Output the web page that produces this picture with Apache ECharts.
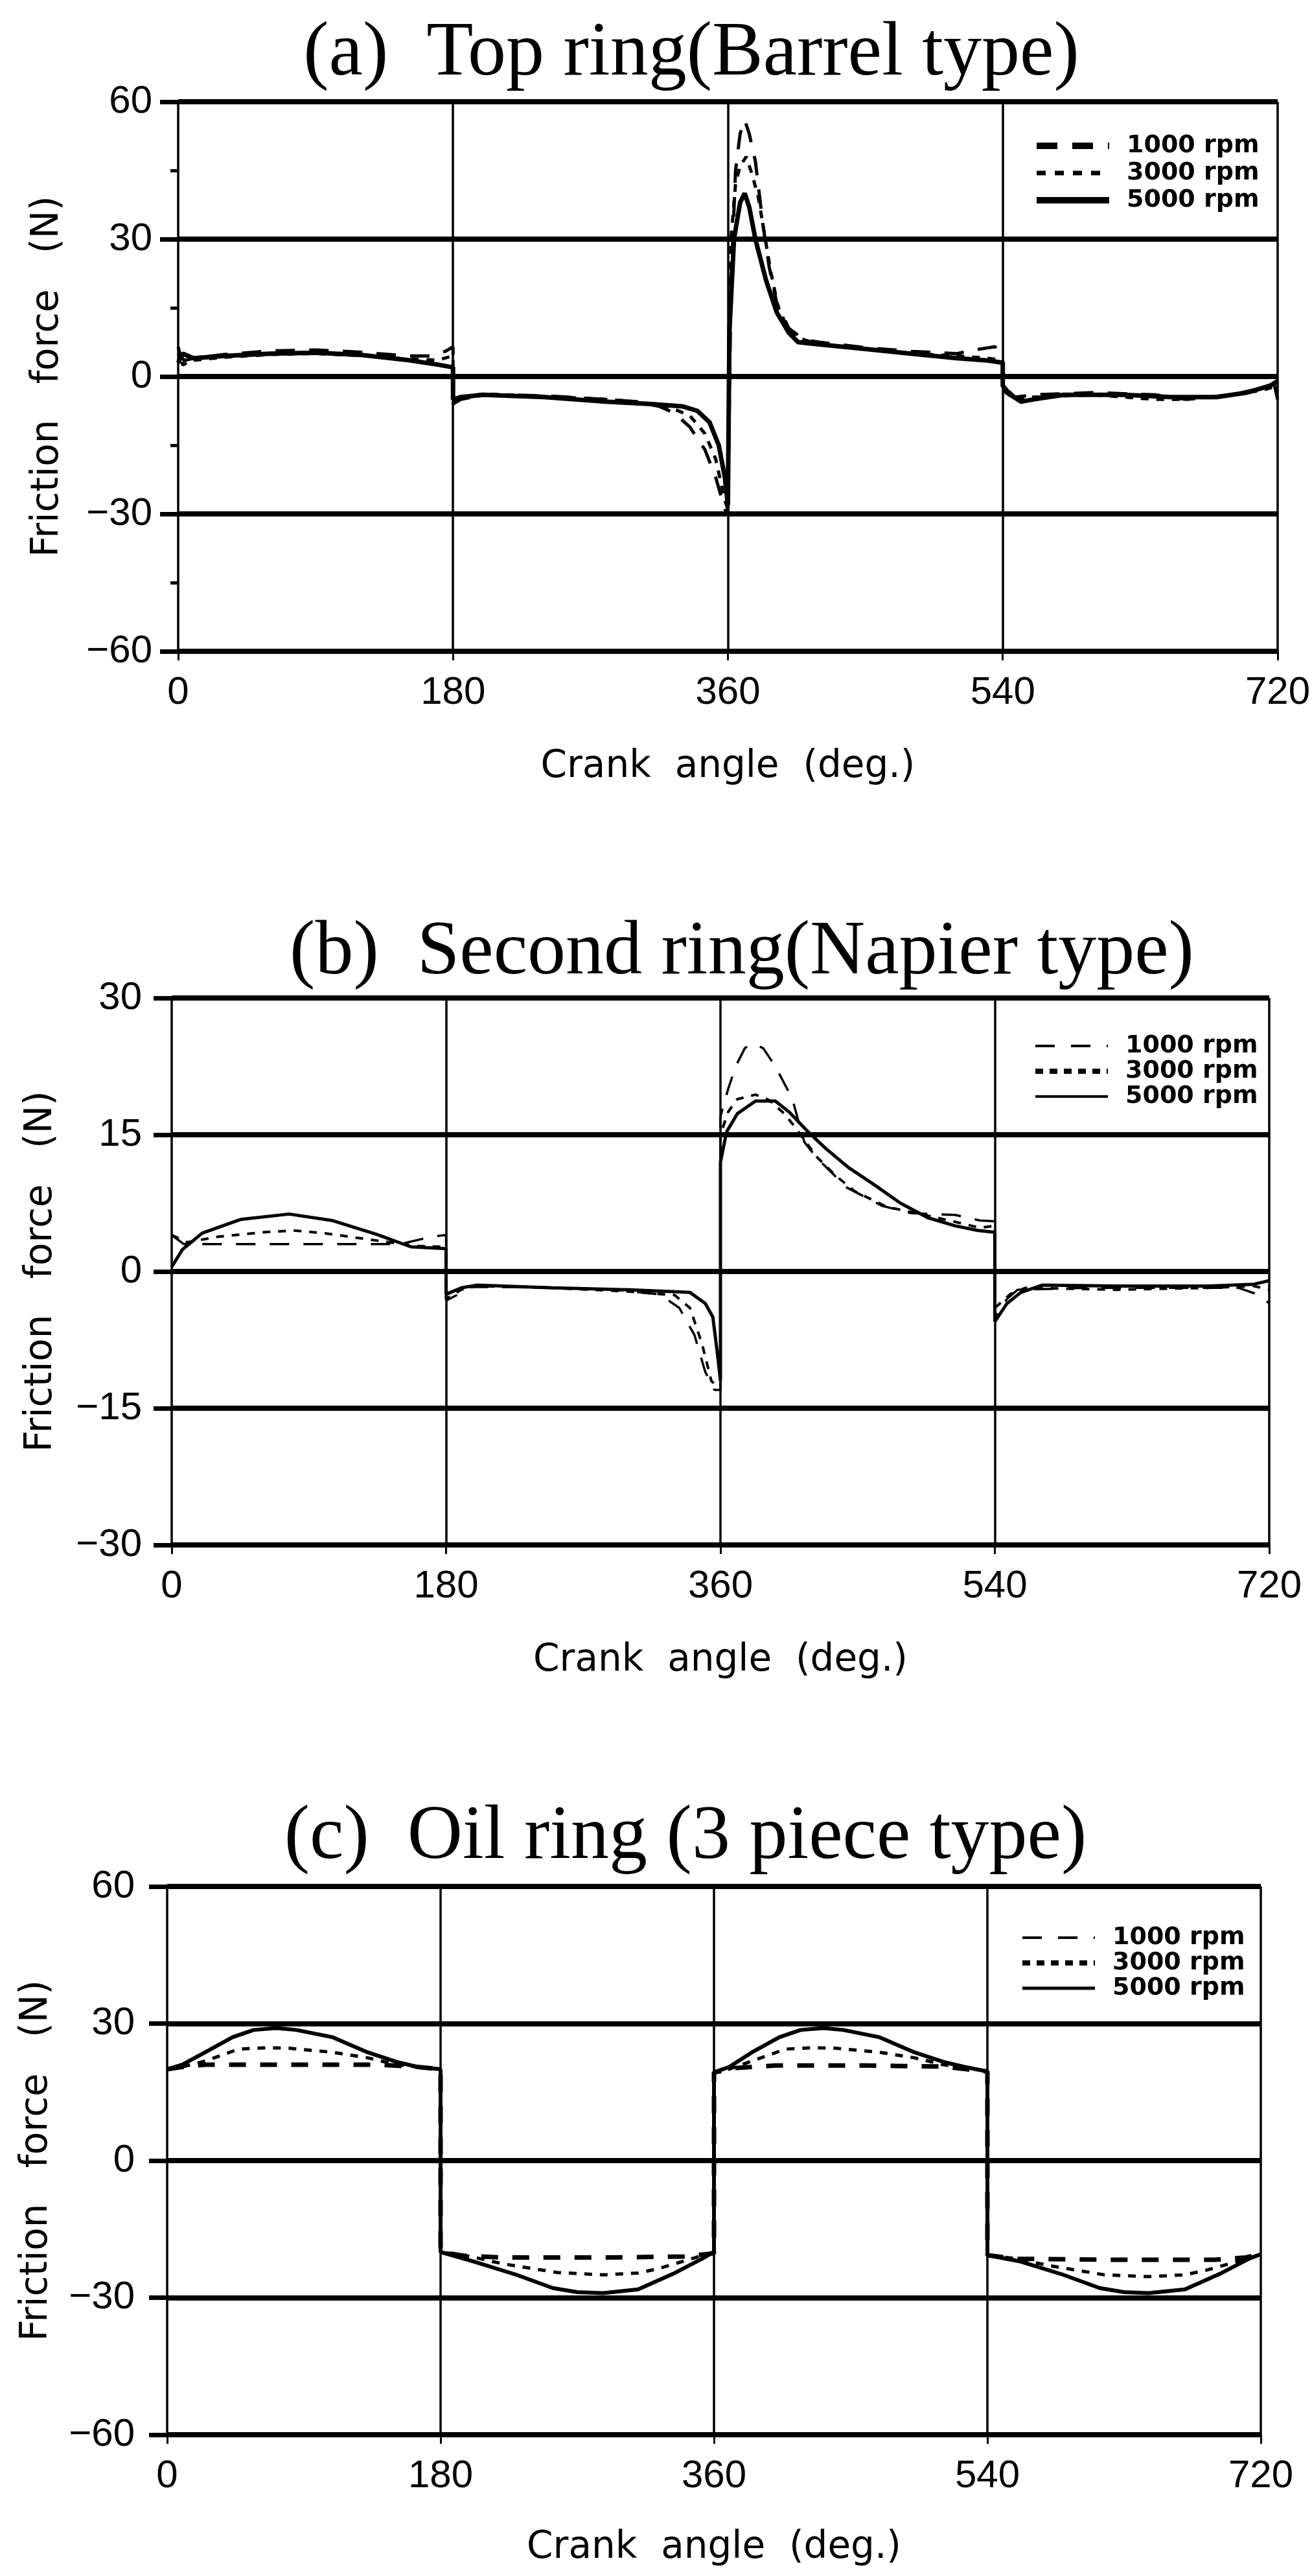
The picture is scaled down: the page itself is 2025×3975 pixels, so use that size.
<!DOCTYPE html>
<html>
<head>
<meta charset="utf-8">
<title>Ring friction force</title>
<script src="https://cdn.jsdelivr.net/npm/echarts@6/dist/echarts.min.js"></script>
<style>
  html, body { margin: 0; padding: 0; background: #fff; }
  #chart { width: 2025px; height: 3975px; }
</style>
</head>
<body>
<div id="chart"></div>
<script>
// [crank angle (deg.), friction force (N)]
const rpmNames = ['1000 rpm', '3000 rpm', '5000 rpm']

// (a) top ring
const top1000 = [[0,5],[4,3.5],[10,4],[30,4.8],[60,5.6],[90,5.8],[120,5.3],[150,4.5],[165,4.5],[175,5.5],[180,6.5],
  [180,-6],[185,-5],[200,-4],[240,-4.2],[280,-5],[300,-5.5],[315,-6.5],[325,-8],[335,-11],[345,-16],[352,-22],[358,-29],[360,-30],
  [362,20],[365,45],[368,53],[371,56],[374,53],[378,47],[383,33],[387,24],[392,16],[400,10.5],[410,8],[420,7.5],[450,6.3],[480,5.5],[510,5],[525,6],[535,6.5],[540,4],
  [540,-2],[548,-4.5],[560,-4],[600,-3.5],[640,-4],[660,-5],[690,-4],[710,-2.5],[718,-2],[720,-5]]
const top3000 = [[0,6.5],[3,2.5],[8,3.5],[30,4.2],[60,4.8],[90,5],[120,4.6],[150,3.8],[170,3.6],[180,4.5],
  [180,-5],[185,-4.5],[200,-3.8],[240,-4.3],[280,-5],[300,-5.5],[320,-6.5],[335,-8.5],[345,-12.5],[352,-18],[358,-27],[360,-29],
  [362,30],[365,42],[368,46],[372,48],[376,44],[380,39],[384,31],[388,23],[393,15],[400,10],[410,8],[420,7],[450,6],[480,5],[510,4.5],[530,4],[540,3.5],
  [540,-3],[548,-5],[560,-4.5],[600,-4],[640,-5],[660,-5],[690,-4],[710,-3],[720,-2]]
const top5000 = [[0,3],[3,5],[10,4],[30,4.5],[60,5],[90,5.2],[120,4.7],[150,3.6],[170,2.6],[180,2],
  [180,-5],[185,-4.5],[200,-4],[240,-4.5],[280,-5.5],[310,-6],[330,-6.5],[340,-7.5],[348,-10],[354,-15],[358,-22],[360,-28],
  [361,10],[364,30],[368,38],[371,40],[374,37],[378,30],[385,21],[392,14],[400,9.5],[406,7.5],[420,7],[450,6],[480,5],[510,4],[530,3.5],[540,3],
  [540,-2],[545,-4],[552,-5.5],[560,-5],[580,-4],[620,-4],[650,-4.5],[680,-4.5],[700,-3.5],[715,-2],[720,-1]]

// (b) second ring
const second1000 = [[0,4],[8,3],[30,3],[60,3],[90,3],[120,3],[150,3],[170,3.8],[180,4],
  [180,-3.2],[188,-2.5],[195,-1.7],[240,-1.7],[290,-2],[320,-2.5],[333,-4],[343,-7],[350,-11],[356,-13],[360,-13],
  [360,17],[365,20],[370,22.5],[376,24.5],[381,25],[388,24.5],[396,22.5],[407,19],[415,14.2],[423,12.5],[432,11],[443,9.2],[466,7.2],[485,6.4],[514,6.2],[530,5.6],[540,5.5],
  [540,-5],[548,-3],[555,-2],[600,-1.8],[650,-1.8],[700,-1.8],[712,-2.5],[720,-3.5]]
const second3000 = [[0,4],[10,3.2],[30,3.8],[60,4.3],[80,4.5],[100,4.2],[130,3.5],[160,2.8],[180,2.7],
  [180,-3],[190,-2],[200,-1.6],[250,-1.8],[300,-2.2],[330,-2.6],[340,-4],[348,-8],[354,-12],[360,-13],
  [360,15],[365,17.5],[371,18.9],[383,19.4],[392,18.8],[402,17.3],[410,15.6],[423,12.6],[435,10.6],[448,8.8],[469,7.1],[488,6.4],[510,5.6],[530,4.8],[540,5],
  [540,-4],[550,-2.5],[560,-1.8],[620,-2],[680,-1.8],[710,-1.6],[720,-2]]
const second5000 = [[0,0.5],[7,2.4],[20,4.2],[45,5.7],[77,6.3],[105,5.6],[134,4.1],[157,2.7],[180,2.5],
  [180,-2.5],[190,-1.8],[200,-1.5],[250,-1.8],[300,-2],[340,-2.3],[350,-3.5],[355,-5],[358,-9],[360,-12],
  [360,12],[364,15.3],[371,17.3],[383,18.7],[396,18.7],[405,17.5],[417,15.4],[429,13.5],[444,11.4],[461,9.5],[478,7.5],[496,5.9],[514,5],[529,4.5],[540,4.3],
  [540,-5.5],[548,-3.5],[557,-2.3],[571,-1.5],[620,-1.6],[680,-1.6],[710,-1.4],[720,-1]]

// (c) oil ring
const oil1000 = [[0,20],[10,20.5],[25,21],[60,21],[100,21],[140,21],[165,20.5],[180,20],
  [180,-20],[195,-20.8],[220,-21.2],[290,-21.2],[340,-21],[360,-20.3],
  [360,19.3],[375,20.3],[400,20.8],[460,20.8],[510,20.6],[540,19.5],
  [540,-20.7],[560,-21.5],[620,-21.7],[690,-21.7],[710,-21.2],[720,-20.5]]
const oil3000 = [[0,20],[10,20.5],[25,21.8],[47,24.4],[65,24.7],[80,24.6],[109,23.7],[132,22.5],[151,21],[170,20.3],[180,20],
  [180,-20],[200,-21],[221,-22.6],[257,-24.5],[287,-25],[310,-24.6],[324,-23.6],[340,-22],[355,-20.5],[360,-20],
  [360,19.3],[370,20],[385,21.8],[407,24.4],[425,24.7],[440,24.6],[469,23.7],[492,22.5],[511,21],[530,20.2],[540,19.5],
  [540,-20.7],[560,-21.5],[581,-23],[617,-25],[646,-25.4],[670,-25],[684,-24],[700,-22.5],[715,-21],[720,-20.5]]
const oil5000 = [[0,20],[10,21],[25,23.7],[43,27],[57,28.6],[72,29],[85,28.6],[109,27],[132,23.7],[151,21.6],[165,20.5],[180,20],
  [180,-20],[202,-22.1],[230,-25],[254,-27.9],[270,-28.8],[287,-29],[310,-28.2],[333,-24.8],[352,-21.5],[360,-20],
  [360,19.3],[370,20.5],[385,23.7],[403,27],[417,28.6],[432,29],[445,28.6],[469,27],[492,23.7],[511,21.6],[525,20.5],[540,19.5],
  [540,-20.7],[562,-22.1],[590,-25],[614,-27.9],[630,-28.8],[646,-29],[670,-28.2],[693,-24.8],[712,-21.5],[720,-20.5]]

const titles = ['(a)  Top ring(Barrel type)', '(b)  Second ring(Napier type)', '(c)  Oil ring (3 piece type)']
const xName = 'Crank  angle  (deg.)'
const yName = 'Friction   force   (N)'

const longDash = [30, 22]
const shortDash = [12, 12]

const chart = echarts.init(document.getElementById('chart'))

function line(name, data, idx, width, type) {
  return {
    name: name,
    type: 'line',
    xAxisIndex: idx,
    yAxisIndex: idx,
    data: data,
    symbol: 'none',
    silent: true,
    itemStyle: { color: '#000' },
    lineStyle: { color: '#000', width: width, type: type }
  }
}

function xAxisFor(idx, nameGap) {
  return {
    type: 'value', gridIndex: idx, min: 0, max: 720, interval: 180,
    name: xName, nameLocation: 'middle', nameGap: nameGap,
    nameTextStyle: { fontFamily: 'DejaVu Sans', fontSize: 58, color: '#000' },
    axisLine: { show: false, onZero: false },
    axisTick: { show: true, length: 14, lineStyle: { color: '#000', width: 3 } },
    axisLabel: { margin: 34, fontFamily: 'Liberation Sans', fontSize: 60, color: '#000' },
    splitLine: { show: true, lineStyle: { color: '#000', width: 3.5 } }
  }
}

function yAxisFor(idx, lim, step, nameGap, labelMargin, minor) {
  return {
    type: 'value', gridIndex: idx, min: -lim, max: lim, interval: step,
    name: yName, nameLocation: 'middle', nameGap: nameGap, nameRotate: 90,
    nameTextStyle: { fontFamily: 'DejaVu Sans', fontSize: 58, color: '#000' },
    axisLine: { show: false },
    axisTick: { show: true, length: 28, lineStyle: { color: '#000', width: 7 } },
    minorTick: { show: minor, splitNumber: 2, length: 12, lineStyle: { color: '#000', width: 5 } },
    axisLabel: {
      margin: labelMargin, fontFamily: 'Liberation Sans', fontSize: 60, color: '#000',
      formatter: v => String(v).replace('-', '\u2212')
    },
    splitLine: { show: true, lineStyle: { color: '#000', width: 8 } }
  }
}

function legendFor(left, top, gap, styles) {
  return {
    orient: 'vertical', left: left, top: top, itemGap: gap,
    itemWidth: 112, itemHeight: 12, selectedMode: false,
    textStyle: { fontFamily: 'DejaVu Sans', fontWeight: 'bold', fontSize: 38, color: '#000', padding: [0, 0, 0, 22] },
    data: rpmNames.map((n, i) => ({ name: n, lineStyle: styles[i], itemStyle: { opacity: 0 } }))
  }
}

function titleFor(text, x, y) {
  return {
    text: text, left: x, top: y, textAlign: 'center',
    textStyle: { fontFamily: 'Liberation Serif', fontWeight: 'normal', fontSize: 118, color: '#000' }
  }
}

chart.setOption({
  backgroundColor: '#fff',
  color: ['#000'],
  animation: false,
  title: [
    titleFor(titles[0], 1062, 20),
    titleFor(titles[1], 1140, 1407),
    titleFor(titles[2], 1053, 2772)
  ],
  legend: [
    legendFor(1590, 201, 4, [
      { color: '#000', width: 10, type: [32, 23] },
      { color: '#000', width: 7, type: [14, 14] },
      { color: '#000', width: 10, type: 'solid' }
    ]),
    legendFor(1589, 1590, 1, [
      { color: '#000', width: 4, type: [30, 25] },
      { color: '#000', width: 8, type: [12, 10] },
      { color: '#000', width: 4, type: 'solid' }
    ]),
    legendFor(1569, 2966, 1, [
      { color: '#000', width: 4, type: [30, 25] },
      { color: '#000', width: 8, type: [12, 10] },
      { color: '#000', width: 5, type: 'solid' }
    ])
  ],
  grid: [
    { left: 275, top: 157, width: 1697, height: 848 },
    { left: 265, top: 1540, width: 1694, height: 844 },
    { left: 258, top: 2911, width: 1688, height: 846 }
  ],
  xAxis: [xAxisFor(0, 150), xAxisFor(1, 150), xAxisFor(2, 146)],
  yAxis: [
    yAxisFor(0, 60, 30, 172, 40, true),
    yAxisFor(1, 30, 15, 172, 46, false),
    yAxisFor(2, 60, 30, 172, 50, false)
  ],
  series: [
    line('1000 rpm', top1000, 0, 5, longDash),
    line('3000 rpm', top3000, 0, 5, shortDash),
    line('5000 rpm', top5000, 0, 7, 'solid'),
    line('1000 rpm', second1000, 1, 3.5, longDash),
    line('3000 rpm', second3000, 1, 4, shortDash),
    line('5000 rpm', second5000, 1, 5, 'solid'),
    line('1000 rpm', oil1000, 2, 7, [26, 22]),
    line('3000 rpm', oil3000, 2, 5, shortDash),
    line('5000 rpm', oil5000, 2, 6, 'solid')
  ]
})
</script>
</body>
</html>
